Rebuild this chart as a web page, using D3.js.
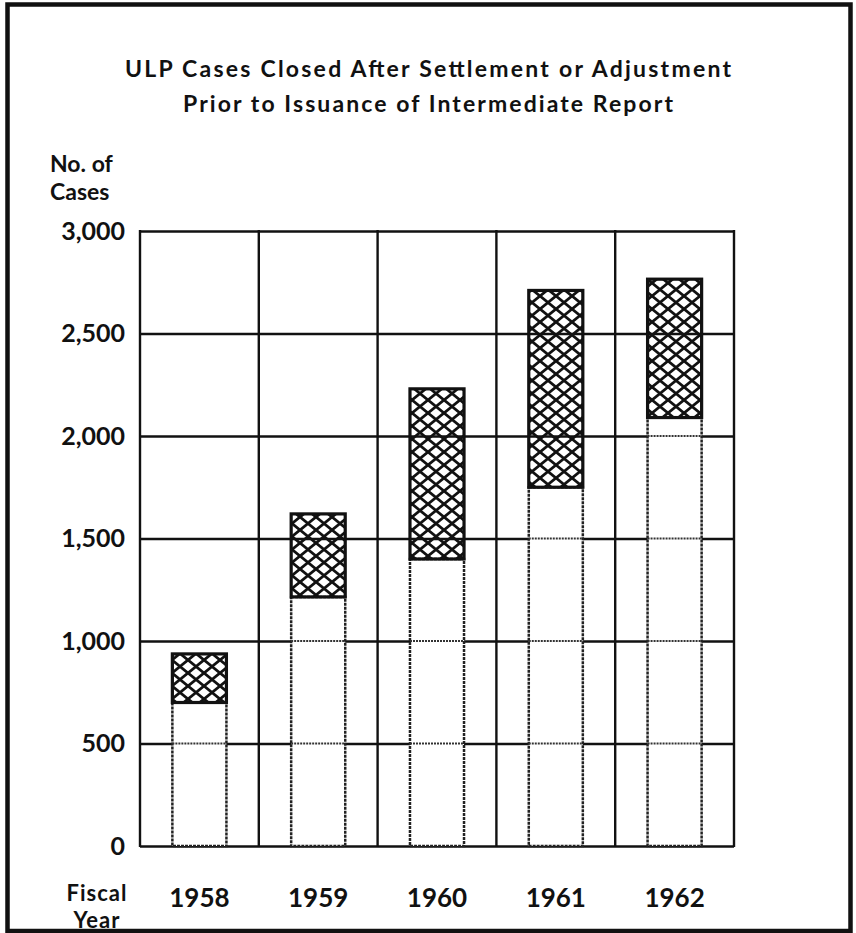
<!DOCTYPE html>
<html>
<head>
<meta charset="utf-8">
<script src="https://cdn.jsdelivr.net/npm/d3@7"></script>
<style>
body {margin: 0; background: #fff;}
text {font-family: Lato, "DejaVu Sans", sans-serif; font-weight: 700; fill: #111;}
</style>
</head>
<body>
<div id="chart"></div>
<script>
// ULP cases closed after settlement or adjustment, stacked bars by fiscal year

let years = ['1958', '1959', '1960', '1961', '1962']
let plainPart = [700, 1215, 1400, 1750, 2090]     // lower, open part of each bar
let hatchedPart = [237, 405, 830, 960, 675]       // upper, cross-hatched part
let yTicks = [0, 500, 1000, 1500, 2000, 2500, 3000]
let titleLines = ['ULP Cases Closed After Settlement or Adjustment', 'Prior to Issuance of Intermediate Report']
let titleWidths = [606, 490]
let yTitle = ['No. of', 'Cases']
let xTitle = ['Fiscal', 'Year']

let W = 856, H = 933
let margin = {top: 231, left: 140, right: 122, bottom: 87}
let width = W - margin.left - margin.right
let height = H - margin.top - margin.bottom

let svg = d3.select('#chart')
    .append('svg')
    .attr('width', W)
    .attr('height', H)

// crosshatch pattern
let hatch = svg.append('defs')
    .append('pattern')
    .attr('id', 'hatch')
    .attr('patternUnits', 'userSpaceOnUse')
    .attr('width', 16)
    .attr('height', 13)
hatch.append('path')
    .attr('d', 'M-2,-1.625L18,14.625M-2,14.625L18,-1.625')
    .attr('stroke', '#111')
    .attr('stroke-width', 2.8)
    .attr('fill', 'none')

// outer frame
svg.append('rect')
    .attr('x', 7.5).attr('y', 4.5)
    .attr('width', 843).attr('height', 926.5)
    .attr('fill', 'none')
    .attr('stroke', '#111')
    .attr('stroke-width', 4.5)

svg.selectAll('.title')
    .data(titleLines)
    .enter()
        .append('text')
        .attr('class', 'title')
        .attr('x', 428)
        .attr('y', (d, i) => 77 + i * 35)
        .attr('text-anchor', 'middle')
        .attr('textLength', (d, i) => titleWidths[i])
        .attr('lengthAdjust', 'spacing')
        .style('font-size', '23px')
        .text(d => d)

let g = svg.append('g')
    .attr('transform', `translate(${margin.left},${margin.top})`)

let x = d3.scaleBand()
    .domain(years)
    .range([0, width])
    .paddingInner(0.545)
    .paddingOuter(0.2725)

let y = d3.scaleLinear()
    .domain([0, 3000])
    .range([height, 0])

let data = years.map((yr, i) => ({year: yr, plain: plainPart[i], hatched: hatchedPart[i]}))
let series = d3.stack().keys(['plain', 'hatched'])(data)

// horizontal grid + tick labels
let yAxis = g.append('g')
    .call(d3.axisLeft(y).tickValues(yTicks).tickSize(-width).tickPadding(15).tickFormat(d3.format(',')))
yAxis.select('.domain').remove()
yAxis.selectAll('.tick line').attr('stroke', '#111').attr('stroke-width', 2.4)
yAxis.selectAll('.tick text')
    .style('font-size', '25px')
    .style('font-family', 'Lato, "DejaVu Sans", sans-serif')
    .attr('fill', '#111')

// vertical grid at column boundaries
let edges = years.map(d => x(d) + x.bandwidth() / 2 - x.step() / 2).concat([width])
g.selectAll('.vgrid')
    .data(edges)
    .enter()
        .append('line')
        .attr('class', 'vgrid')
        .attr('x1', d => d).attr('x2', d => d)
        .attr('y1', -1).attr('y2', height + 1)
        .attr('stroke', '#111')
        .attr('stroke-width', 2.4)

// lower open segments
g.selectAll('.plain')
    .data(series[0])
    .enter()
        .append('rect')
        .attr('class', 'plain')
        .attr('x', d => x(d.data.year))
        .attr('width', x.bandwidth())
        .attr('y', d => y(d[1]))
        .attr('height', d => y(d[0]) - y(d[1]))
        .attr('fill', '#fff')
        .attr('stroke', '#222')
        .attr('stroke-width', 2.5)
        .attr('stroke-dasharray', '3,1')

// grid lines showing through the open segments as dotted lines
series[0].forEach(d => {
    yTicks.filter(t => t > d[0] && t < d[1]).forEach(t => {
        g.append('line')
            .attr('x1', x(d.data.year)).attr('x2', x(d.data.year) + x.bandwidth())
            .attr('y1', y(t)).attr('y2', y(t))
            .attr('stroke', '#333')
            .attr('stroke-width', 2.2)
            .attr('stroke-dasharray', '2,1')
    })
})

// upper hatched segments
g.selectAll('.hatched')
    .data(series[1])
    .enter()
        .append('rect')
        .attr('class', 'hatched')
        .attr('x', d => x(d.data.year))
        .attr('width', x.bandwidth())
        .attr('y', d => y(d[1]))
        .attr('height', d => y(d[0]) - y(d[1]))
        .attr('fill', 'url(#hatch)')
        .attr('stroke', '#111')
        .attr('stroke-width', 3.2)

// year labels
g.selectAll('.year')
    .data(years)
    .enter()
        .append('text')
        .attr('class', 'year')
        .attr('x', d => x(d) + x.bandwidth() / 2)
        .attr('y', height + 61)
        .attr('text-anchor', 'middle')
        .style('font-size', '26px')
        .text(d => d)

// axis titles
svg.selectAll('.ytitle')
    .data(yTitle)
    .enter()
        .append('text')
        .attr('class', 'ytitle')
        .attr('x', 50)
        .attr('y', (d, i) => 172 + i * 28)
        .style('font-size', '23px')
        .text(d => d)

svg.selectAll('.xtitle')
    .data(xTitle)
    .enter()
        .append('text')
        .attr('class', 'xtitle')
        .attr('x', 97)
        .attr('y', (d, i) => 901 + i * 27)
        .attr('text-anchor', 'middle')
        .style('font-size', '22px')
        .style('letter-spacing', '1px')
        .text(d => d)
</script>
</body>
</html>
